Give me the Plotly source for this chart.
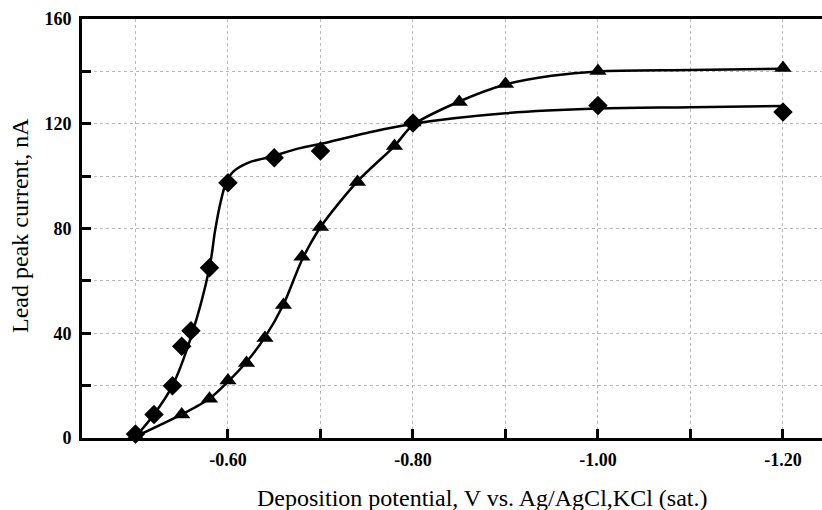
import plotly.graph_objects as go

# Measured points (diamonds)
dia_x = [-0.50, -0.52, -0.54, -0.55, -0.56, -0.58, -0.60, -0.65, -0.70, -0.80, -1.00, -1.20]
dia_y = [1.5, 9, 20, 35, 41, 65, 97.5, 107, 109.6, 120.3, 127, 124.5]

# Measured points (triangles)
tri_x = [-0.50, -0.55, -0.58, -0.60, -0.62, -0.64, -0.66, -0.68, -0.70, -0.74, -0.78, -0.80, -0.85, -0.90, -1.00, -1.20]
tri_y = [1, 9, 15, 22, 28.6, 38.2, 50.8, 69.2, 80.6, 97.8, 111.5, 120.5, 128.3, 135.2, 140.1, 141.3]

# Fitted curves
dia_fit_x = [-0.50, -0.52, -0.54, -0.56, -0.58, -0.586, -0.592, -0.598, -0.606, -0.621, -0.645,
             -0.678, -0.70, -0.75, -0.80, -0.90, -1.00, -1.10, -1.20]
dia_fit_y = [0.5, 9, 20, 38.5, 65, 79, 90, 97.5, 101.8, 105, 107.3,
             110.7, 112.3, 116.5, 120, 124, 125.8, 126.3, 126.8]

tri_fit_x = [-0.50, -0.55, -0.58, -0.60, -0.62, -0.64, -0.66, -0.68, -0.70, -0.74, -0.78, -0.80,
             -0.85, -0.90, -0.95, -1.00, -1.10, -1.20]
tri_fit_y = [0.5, 9, 15, 21.5, 29, 38.5, 51, 68, 80.5, 98, 111.5, 119.5,
             128.5, 135, 138.3, 140, 140.5, 141]

x_tickvals = [-0.60, -0.80, -1.00, -1.20]
x_ticktext = ["-0.60", "-0.80", "-1.00", "-1.20"]
x_minorvals = [-0.50, -0.70, -0.90, -1.10]
y_tickvals = [0, 40, 80, 120, 160]
y_minorvals = [20, 60, 100, 140]

fig = go.Figure()
fig.add_trace(go.Scatter(x=dia_fit_x, y=dia_fit_y, mode="lines",
                         line=dict(color="black", width=2.5, shape="spline", smoothing=1.0),
                         hoverinfo="skip", cliponaxis=False))
fig.add_trace(go.Scatter(x=tri_fit_x, y=tri_fit_y, mode="lines",
                         line=dict(color="black", width=2.5, shape="spline", smoothing=0.8),
                         hoverinfo="skip", cliponaxis=False))
fig.add_trace(go.Scatter(x=dia_x, y=dia_y, mode="markers",
                         marker=dict(symbol="diamond", size=15, color="black"), cliponaxis=False))
fig.add_trace(go.Scatter(x=tri_x, y=tri_y, mode="markers",
                         marker=dict(symbol="triangle-up", size=15, color="black"), cliponaxis=False))

L, R, T, B = 82, 0, 19, 72
W, H = 822, 510
pw, ph = W - L - R, H - T - B

def px_x(p):
    return (p - L) / pw

def px_y(p):
    return (H - B - p) / ph

grid_col = "#b8b8b8"

fig.update_layout(
    width=W, height=H,
    margin=dict(l=L, r=R, t=T, b=B, pad=0),
    plot_bgcolor="white", paper_bgcolor="white",
    showlegend=False,
    font=dict(family="Liberation Serif", color="black"),
    xaxis=dict(
        range=[-0.4422, -1.2422],
        tickvals=x_tickvals, ticktext=x_ticktext,
        ticks="inside", ticklen=9, tickwidth=2.5, tickcolor="black",
        tickfont=dict(family="Liberation Serif", size=18, color="black", weight="bold"),
        ticklabelstandoff=3,
        showline=True, linecolor="black", linewidth=3, mirror=True,
        showgrid=True, gridcolor=grid_col, griddash="dot", gridwidth=1,
        minor=dict(tickvals=x_minorvals, ticks="inside", ticklen=9, tickwidth=2.5, tickcolor="black",
                   showgrid=True, gridcolor=grid_col, griddash="dot", gridwidth=1),
        zeroline=False,
    ),
    yaxis=dict(
        range=[0, 160],
        tickvals=y_tickvals,
        ticks="inside", ticklen=9, tickwidth=2.5, tickcolor="black",
        tickfont=dict(family="Liberation Serif", size=18, color="black", weight="bold"),
        ticklabelstandoff=4,
        showline=True, linecolor="black", linewidth=3, mirror=False,
        showgrid=True, gridcolor=grid_col, griddash="dot", gridwidth=1,
        minor=dict(tickvals=y_minorvals, ticks="inside", ticklen=9, tickwidth=2.5, tickcolor="black",
                   showgrid=True, gridcolor=grid_col, griddash="dot", gridwidth=1),
        zeroline=False,
    ),
    annotations=[
        dict(text="Deposition potential, V vs. Ag/AgCl,KCl (sat.)",
             xref="paper", yref="paper", x=px_x(482), y=px_y(498),
             xanchor="center", yanchor="middle", showarrow=False,
             font=dict(family="Liberation Serif", size=24, color="black")),
        dict(text="Lead peak current, nA",
             xref="paper", yref="paper", x=px_x(20), y=px_y(226),
             xanchor="center", yanchor="middle", showarrow=False, textangle=-90,
             font=dict(family="Liberation Serif", size=24, color="black")),
    ],
)

fig.write_html("out.html")
